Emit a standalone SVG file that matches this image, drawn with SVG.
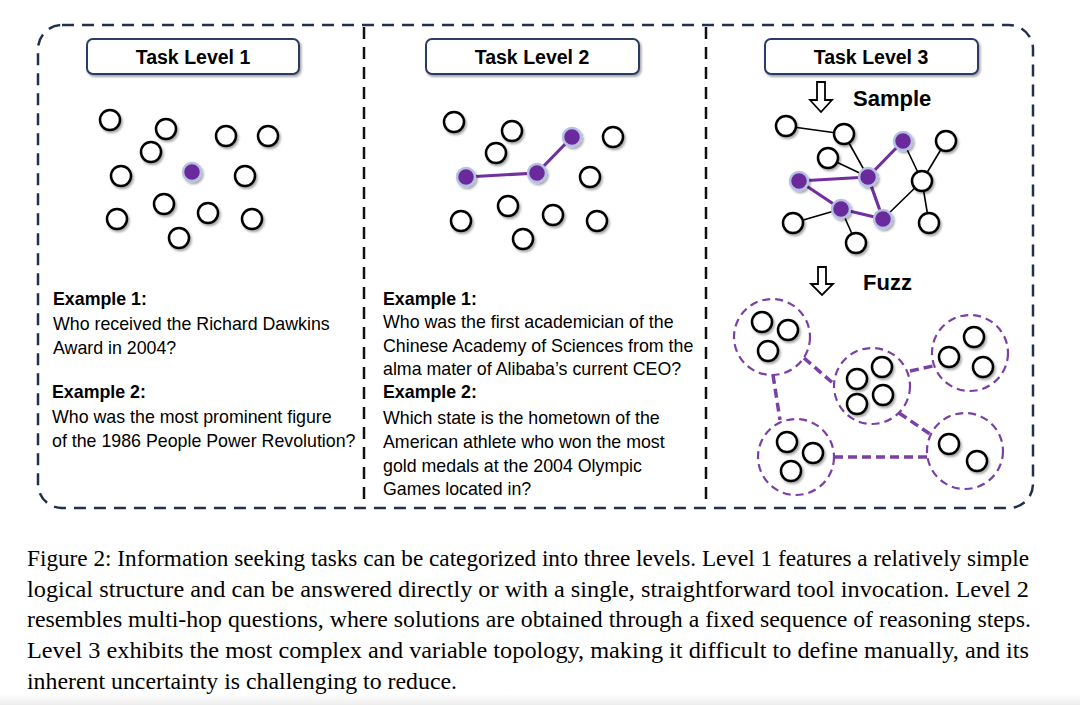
<svg xmlns="http://www.w3.org/2000/svg" width="1080" height="705" viewBox="0 0 1080 705">
<defs>
<filter id="sh" x="-50%" y="-50%" width="200%" height="200%">
<feDropShadow dx="1.5" dy="2" stdDeviation="1.2" flood-color="#000" flood-opacity="0.35"/>
</filter>
<linearGradient id="pg" x1="0" y1="0" x2="0" y2="1">
<stop offset="0" stop-color="#ffffff"/>
<stop offset="1" stop-color="#ececec"/>
</linearGradient>
</defs>
<style>
.frame{fill:none;stroke:#22304f;stroke-width:2.5;stroke-dasharray:12 8}
.div{stroke:#111;stroke-width:2.5;stroke-dasharray:12 8}
.tbox{fill:#fff;stroke:#2c3b66;stroke-width:2}
.ttl{font-family:"Liberation Sans",Arial,sans-serif;font-weight:bold;font-size:19.5px;fill:#000;text-anchor:middle}
.lbl{font-family:"Liberation Sans",Arial,sans-serif;font-weight:bold;font-size:22px;fill:#000}
.n{fill:#fff;stroke:#000;stroke-width:2.5}
.p{fill:#6a2c9c;stroke:#b6c0e2;stroke-width:2.5}
.pe{stroke:#7030a0;stroke-width:3.2;fill:none}
.be{stroke:#000;stroke-width:1.6;fill:none}
.dc{fill:none;stroke:#7b3fa8;stroke-width:2.2;stroke-dasharray:8 5}
.dl{stroke:#7b3fa8;stroke-width:3.5;stroke-dasharray:9 5;fill:none}
.arr{fill:#fff;stroke:#000;stroke-width:1.8}
.ex{font-family:"Liberation Sans",Arial,sans-serif;font-size:17.8px;fill:#000}
.exb{font-weight:bold}
.cap{font-family:"Liberation Serif","Times New Roman",serif;font-size:22.5px;fill:#000}
</style>
<rect width="1080" height="705" fill="#fff"/>
<rect x="0" y="694" width="1080" height="11" fill="url(#pg)"/>

<g id="frame">
<rect class="frame" x="38" y="25" width="995" height="483" rx="24"/>
<line class="div" x1="364" y1="27" x2="364" y2="506"/>
<line class="div" x1="706" y1="27" x2="706" y2="506"/>
</g>

<g id="title1"><rect class="tbox" x="87" y="39" width="212" height="35" rx="6" filter="url(#sh)"/><text class="ttl" x="193" y="64">Task Level 1</text></g>
<g id="title2"><rect class="tbox" x="426" y="39" width="213" height="35" rx="6" filter="url(#sh)"/><text class="ttl" x="532" y="64">Task Level 2</text></g>
<g id="title3"><rect class="tbox" x="765" y="39" width="213" height="35" rx="6" filter="url(#sh)"/><text class="ttl" x="871" y="64">Task Level 3</text></g>

<g id="level1-graph" filter="url(#sh)">
<circle id="l1n1" class="n" cx="110" cy="120" r="10"/>
<circle id="l1n2" class="n" cx="166" cy="129" r="10"/>
<circle id="l1n3" class="n" cx="226" cy="136" r="10"/>
<circle id="l1n4" class="n" cx="268" cy="136" r="10"/>
<circle id="l1n5" class="n" cx="151" cy="152" r="10"/>
<circle id="l1n6" class="n" cx="121" cy="176" r="10"/>
<circle id="l1n7" class="p" cx="192" cy="172" r="9"/>
<circle id="l1n8" class="n" cx="245" cy="176" r="10"/>
<circle id="l1n9" class="n" cx="164" cy="204" r="10"/>
<circle id="l1n10" class="n" cx="208" cy="213" r="10"/>
<circle id="l1n11" class="n" cx="117" cy="219" r="10"/>
<circle id="l1n12" class="n" cx="252" cy="219" r="10"/>
<circle id="l1n13" class="n" cx="179" cy="238" r="10"/>
</g>

<g id="level2-edges">
<polyline class="pe" points="466,177 537,173 572,137"/>
</g>
<g id="level2-graph" filter="url(#sh)">
<circle id="l2n1" class="n" cx="454" cy="122" r="10"/>
<circle id="l2n2" class="n" cx="512" cy="131" r="10"/>
<circle id="l2n3" class="n" cx="496" cy="153" r="10"/>
<circle id="l2n4" class="p" cx="572" cy="137" r="9"/>
<circle id="l2n5" class="n" cx="613" cy="137" r="10"/>
<circle id="l2n6" class="p" cx="466" cy="177" r="9"/>
<circle id="l2n7" class="p" cx="537" cy="173" r="9"/>
<circle id="l2n8" class="n" cx="590" cy="177" r="10"/>
<circle id="l2n9" class="n" cx="508" cy="206" r="10"/>
<circle id="l2n10" class="n" cx="553" cy="215" r="10"/>
<circle id="l2n11" class="n" cx="461" cy="221" r="10"/>
<circle id="l2n12" class="n" cx="597" cy="221" r="10"/>
<circle id="l2n13" class="n" cx="523" cy="239" r="10"/>
</g>

<g id="sample-arrow">
<path class="arr" d="M817,82 H825 V100 H832 L821,112 L810,100 H817 Z"/>
<text class="lbl" x="853" y="106">Sample</text>
</g>

<g id="level3-edges">
<line class="be" x1="786" y1="126" x2="844" y2="134"/>
<line class="be" x1="844" y1="134" x2="868" y2="177"/>
<line class="be" x1="828" y1="158" x2="868" y2="177"/>
<line class="be" x1="946" y1="141" x2="922" y2="181"/>
<line class="be" x1="903" y1="141" x2="922" y2="181"/>
<line class="be" x1="922" y1="181" x2="929" y2="223"/>
<line class="be" x1="922" y1="181" x2="883" y2="219"/>
<line class="be" x1="793" y1="223" x2="841" y2="209"/>
<line class="be" x1="841" y1="209" x2="856" y2="243"/>
<line class="pe" x1="903" y1="141" x2="868" y2="177"/>
<line class="pe" x1="868" y1="177" x2="799" y2="181"/>
<line class="pe" x1="799" y1="181" x2="841" y2="209"/>
<line class="pe" x1="841" y1="209" x2="883" y2="219"/>
<line class="pe" x1="868" y1="177" x2="883" y2="219"/>
</g>
<g id="level3-graph" filter="url(#sh)">
<circle id="l3a" class="n" cx="786" cy="126" r="10"/>
<circle id="l3b" class="n" cx="844" cy="134" r="10"/>
<circle id="l3c" class="p" cx="903" cy="141" r="9"/>
<circle id="l3d" class="n" cx="946" cy="141" r="10"/>
<circle id="l3e" class="n" cx="828" cy="158" r="10"/>
<circle id="l3f" class="p" cx="868" cy="177" r="9"/>
<circle id="l3g" class="p" cx="799" cy="181" r="9"/>
<circle id="l3h" class="n" cx="922" cy="181" r="10"/>
<circle id="l3i" class="p" cx="841" cy="209" r="9"/>
<circle id="l3j" class="p" cx="883" cy="219" r="9"/>
<circle id="l3k" class="n" cx="793" cy="223" r="10"/>
<circle id="l3l" class="n" cx="929" cy="223" r="10"/>
<circle id="l3m" class="n" cx="856" cy="243" r="10"/>
</g>

<g id="fuzz-arrow">
<path class="arr" d="M818,267 H826 V284 H833 L822,295 L811,284 H818 Z"/>
<text class="lbl" x="863" y="290">Fuzz</text>
</g>

<g id="fuzz-edges">
<line class="dl" x1="804" y1="358" x2="834" y2="384"/>
<line class="dl" x1="773" y1="375" x2="780" y2="420"/>
<line class="dl" x1="910" y1="371" x2="933" y2="366"/>
<line class="dl" x1="899" y1="413" x2="930" y2="434"/>
<line class="dl" x1="834" y1="457" x2="927" y2="457"/>
</g>

<g id="cluster1">
<circle class="dc" cx="772" cy="337" r="38"/>
<g filter="url(#sh)"><circle class="n" cx="762" cy="322" r="10"/><circle class="n" cx="788" cy="330" r="10"/><circle class="n" cx="768" cy="351" r="10"/></g>
</g>
<g id="cluster2">
<circle class="dc" cx="872" cy="386" r="38"/>
<g filter="url(#sh)"><circle class="n" cx="882" cy="367" r="10"/><circle class="n" cx="857" cy="379" r="10"/><circle class="n" cx="883" cy="395" r="10"/><circle class="n" cx="857" cy="404" r="10"/></g>
</g>
<g id="cluster3">
<circle class="dc" cx="970" cy="353" r="38"/>
<g filter="url(#sh)"><circle class="n" cx="974" cy="337" r="10"/><circle class="n" cx="949" cy="357" r="10"/><circle class="n" cx="983" cy="367" r="10"/></g>
</g>
<g id="cluster4">
<circle class="dc" cx="796" cy="457" r="38"/>
<g filter="url(#sh)"><circle class="n" cx="787" cy="442" r="10"/><circle class="n" cx="813" cy="453" r="10"/><circle class="n" cx="791" cy="471" r="10"/></g>
</g>
<g id="cluster5">
<circle class="dc" cx="965" cy="451" r="38"/>
<g filter="url(#sh)"><circle class="n" cx="949" cy="444" r="10"/><circle class="n" cx="977" cy="461" r="10"/></g>
</g>

<g id="examples1" class="ex">
<text x="53" y="305" class="exb">Example 1:</text>
<text x="53" y="330">Who received the Richard Dawkins</text>
<text x="53" y="354">Award in 2004?</text>
<text x="52" y="398" class="exb">Example 2:</text>
<text x="52" y="423">Who was the most prominent figure</text>
<text x="52" y="447">of the 1986 People Power Revolution?</text>
</g>

<g id="examples2" class="ex">
<text x="383" y="305" class="exb">Example 1:</text>
<text x="383" y="328">Who was the first academician of the</text>
<text x="383" y="352">Chinese Academy of Sciences from the</text>
<text x="383" y="375">alma mater of Alibaba’s current CEO?</text>
<text x="383" y="398" class="exb">Example 2:</text>
<text x="383" y="424">Which state is the hometown of the</text>
<text x="383" y="448">American athlete who won the most</text>
<text x="383" y="472">gold medals at the 2004 Olympic</text>
<text x="383" y="495">Games located in?</text>
</g>

<g id="caption" class="cap">
<text x="27" y="566" textLength="1002" lengthAdjust="spacingAndGlyphs">Figure 2: Information seeking tasks can be categorized into three levels. Level 1 features a relatively simple</text>
<text x="27" y="597" textLength="1002" lengthAdjust="spacingAndGlyphs">logical structure and can be answered directly or with a single, straightforward tool invocation. Level 2</text>
<text x="27" y="627" textLength="1004" lengthAdjust="spacingAndGlyphs">resembles multi-hop questions, where solutions are obtained through a fixed sequence of reasoning steps.</text>
<text x="27" y="658" textLength="1002" lengthAdjust="spacingAndGlyphs">Level 3 exhibits the most complex and variable topology, making it difficult to define manually, and its</text>
<text x="27" y="689" textLength="430" lengthAdjust="spacingAndGlyphs">inherent uncertainty is challenging to reduce.</text>
</g>
</svg>
